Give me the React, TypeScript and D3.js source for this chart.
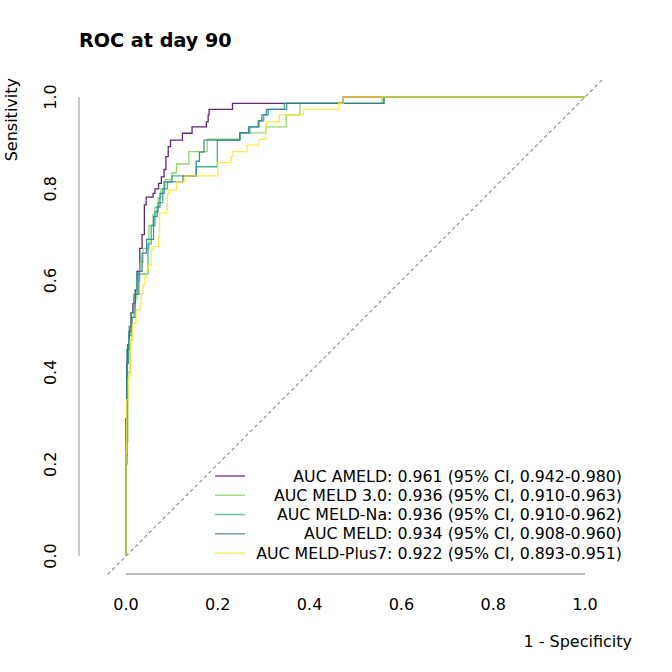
import React from "react";
import * as d3 from "d3";

const models = ["AMELD", "MELD 3.0", "MELD-Na", "MELD", "MELD-Plus7"];
const colors = ["#440154", "#7AD151", "#22A884", "#2A788E", "#FDE725"];
const legendLabels = [
  "AUC AMELD: 0.961 (95% CI, 0.942-0.980)",
  "AUC MELD 3.0: 0.936 (95% CI, 0.910-0.963)",
  "AUC MELD-Na: 0.936 (95% CI, 0.910-0.962)",
  "AUC MELD: 0.934 (95% CI, 0.908-0.960)",
  "AUC MELD-Plus7: 0.922 (95% CI, 0.893-0.951)",
];
const ticks = [0, 0.2, 0.4, 0.6, 0.8, 1.0];

// step vertices: [1-specificity, sensitivity]
const ameld: [number, number][] = [
  [0, 0], [0, 0.3], [0.002, 0.3], [0.002, 0.42], [0.004, 0.42], [0.004, 0.46], [0.007, 0.46], [0.007, 0.49],
  [0.011, 0.49], [0.011, 0.53], [0.015, 0.53], [0.015, 0.55], [0.02, 0.55], [0.02, 0.58], [0.024, 0.58],
  [0.024, 0.62], [0.03, 0.62], [0.03, 0.67], [0.035, 0.67], [0.035, 0.7], [0.04, 0.7], [0.04, 0.765],
  [0.044, 0.765], [0.044, 0.782], [0.059, 0.782], [0.059, 0.79], [0.063, 0.79], [0.063, 0.8], [0.071, 0.8],
  [0.071, 0.812], [0.077, 0.812], [0.077, 0.826], [0.083, 0.826], [0.083, 0.842], [0.087, 0.842],
  [0.087, 0.87], [0.092, 0.87], [0.092, 0.892], [0.097, 0.892], [0.097, 0.906], [0.123, 0.906],
  [0.123, 0.921], [0.144, 0.921], [0.144, 0.935], [0.175, 0.935], [0.175, 0.946], [0.179, 0.946],
  [0.179, 0.961], [0.181, 0.961], [0.181, 0.973], [0.232, 0.973], [0.232, 0.986], [0.473, 0.986],
  [0.473, 1], [1, 1],
];
const meld30: [number, number][] = [
  [0, 0], [0, 0.25], [0.004, 0.25], [0.004, 0.4], [0.009, 0.4], [0.009, 0.47], [0.013, 0.47], [0.013, 0.52],
  [0.017, 0.52], [0.017, 0.56], [0.024, 0.56], [0.024, 0.6], [0.03, 0.6], [0.03, 0.64], [0.037, 0.64],
  [0.037, 0.67], [0.05, 0.67], [0.05, 0.72], [0.059, 0.72], [0.059, 0.745], [0.063, 0.745], [0.063, 0.76],
  [0.07, 0.76], [0.07, 0.78], [0.076, 0.78], [0.076, 0.8], [0.085, 0.8], [0.085, 0.82], [0.1, 0.82],
  [0.1, 0.835], [0.11, 0.835], [0.11, 0.854], [0.137, 0.854], [0.137, 0.881], [0.177, 0.881],
  [0.177, 0.908], [0.248, 0.908], [0.248, 0.922], [0.305, 0.922], [0.305, 0.935], [0.349, 0.935],
  [0.349, 0.961], [0.379, 0.961], [0.379, 0.986], [0.558, 0.986], [0.558, 1], [1, 1],
];
const meldNa: [number, number][] = [
  [0, 0], [0, 0.22], [0.002, 0.22], [0.002, 0.42], [0.006, 0.42], [0.006, 0.48], [0.011, 0.48], [0.011, 0.53],
  [0.017, 0.53], [0.017, 0.57], [0.024, 0.57], [0.024, 0.614], [0.048, 0.614], [0.048, 0.68], [0.055, 0.68],
  [0.055, 0.72], [0.063, 0.72], [0.063, 0.75], [0.07, 0.75], [0.07, 0.77], [0.08, 0.77], [0.08, 0.8],
  [0.09, 0.8], [0.09, 0.815], [0.1, 0.815], [0.1, 0.828], [0.153, 0.828], [0.153, 0.848], [0.199, 0.848],
  [0.199, 0.906], [0.248, 0.906], [0.248, 0.922], [0.27, 0.922], [0.27, 0.935], [0.29, 0.935], [0.29, 0.948],
  [0.3, 0.948], [0.3, 0.961], [0.31, 0.961], [0.31, 0.973], [0.345, 0.973], [0.345, 0.986], [0.562, 0.986],
  [0.562, 1], [1, 1],
];
const meld: [number, number][] = [
  [0, 0], [0, 0.2], [0.002, 0.2], [0.002, 0.45], [0.007, 0.45], [0.007, 0.5], [0.013, 0.5], [0.013, 0.52],
  [0.02, 0.52], [0.02, 0.57], [0.028, 0.57], [0.028, 0.62], [0.035, 0.62], [0.035, 0.66], [0.045, 0.66],
  [0.045, 0.69], [0.06, 0.69], [0.06, 0.74], [0.068, 0.74], [0.068, 0.76], [0.074, 0.76], [0.074, 0.79],
  [0.083, 0.79], [0.083, 0.815], [0.124, 0.815], [0.124, 0.828], [0.153, 0.828], [0.153, 0.86], [0.16, 0.86],
  [0.16, 0.88], [0.17, 0.88], [0.17, 0.906], [0.248, 0.906], [0.248, 0.922], [0.267, 0.922], [0.267, 0.935],
  [0.288, 0.935], [0.288, 0.948], [0.296, 0.948], [0.296, 0.961], [0.306, 0.961], [0.306, 0.973],
  [0.35, 0.973], [0.35, 0.986], [0.562, 0.986], [0.562, 1], [1, 1],
];
const meldPlus7: [number, number][] = [
  [0, 0], [0, 0.224], [0.0015, 0.224], [0.0015, 0.34], [0.005, 0.34], [0.005, 0.387], [0.009, 0.387],
  [0.009, 0.47], [0.014, 0.47], [0.014, 0.507], [0.022, 0.507], [0.022, 0.536], [0.03, 0.536], [0.03, 0.55],
  [0.033, 0.55], [0.033, 0.572], [0.037, 0.572], [0.037, 0.59], [0.041, 0.59], [0.041, 0.608], [0.046, 0.608],
  [0.046, 0.623], [0.049, 0.623], [0.049, 0.634], [0.055, 0.634], [0.055, 0.667], [0.059, 0.667],
  [0.059, 0.674], [0.071, 0.674], [0.071, 0.696], [0.073, 0.696], [0.073, 0.747], [0.088, 0.747],
  [0.088, 0.754], [0.09, 0.754], [0.09, 0.789], [0.093, 0.789], [0.093, 0.797], [0.11, 0.797], [0.11, 0.815],
  [0.128, 0.815], [0.128, 0.828], [0.2, 0.828], [0.2, 0.857], [0.229, 0.857], [0.229, 0.87], [0.233, 0.87],
  [0.233, 0.881], [0.264, 0.881], [0.264, 0.895], [0.29, 0.895], [0.29, 0.908], [0.304, 0.908],
  [0.304, 0.935], [0.306, 0.935], [0.306, 0.946], [0.334, 0.946], [0.334, 0.961], [0.386, 0.961],
  [0.386, 0.973], [0.463, 0.973], [0.463, 0.986], [0.473, 0.986], [0.473, 1], [1, 1],
];
const curves = [ameld, meld30, meldNa, meld, meldPlus7];

const W = 672;
const H = 672;
const font = "DejaVu Sans, sans-serif";

export default function App() {
  const x = d3.scaleLinear().domain([0, 1]).range([126, 585]);
  const y = d3.scaleLinear().domain([0, 1]).range([556, 97]);
  const line = d3
    .line<[number, number]>()
    .x((d) => x(d[0]))
    .y((d) => y(d[1]));
  const fmt = d3.format(".1f");
  const legendY = (i: number) => 476 + i * 19.25;

  return (
    <svg
      width={W}
      height={H}
      style={{ position: "absolute", left: 0, top: 0, background: "#fff" }}
      fontFamily={font}
    >
      <rect width={W} height={H} fill="#fff" />
      <text x={79} y={47} fontSize={19.2} fontWeight="bold" fill="#000">
        ROC at day 90
      </text>
      {/* axes lines */}
      <line x1={79} x2={79} y1={y(0)} y2={y(1)} stroke="#aaa" strokeWidth={1.3} />
      <line x1={x(0)} x2={x(1)} y1={574} y2={574} stroke="#aaa" strokeWidth={1.3} />
      {/* diagonal */}
      <line
        x1={x(-0.04)}
        y1={y(-0.04)}
        x2={x(1.04)}
        y2={y(1.04)}
        stroke="#888"
        strokeWidth={1.1}
        strokeDasharray="3.5,3"
      />
      {/* curves */}
      {curves.map((c, i) => (
        <path
          key={models[i]}
          d={line(c) || ""}
          fill="none"
          stroke={colors[i]}
          strokeWidth={1.3}
          strokeOpacity={0.85}
        />
      ))}
      {/* x ticks */}
      {ticks.map((t) => (
        <text key={"x" + t} x={x(t)} y={610} fontSize={16} textAnchor="middle" fill="#000">
          {fmt(t)}
        </text>
      ))}
      {/* y ticks */}
      {ticks.map((t) => (
        <text
          key={"y" + t}
          transform={`translate(56,${y(t)}) rotate(-90)`}
          fontSize={16}
          textAnchor="middle"
          fill="#000"
        >
          {fmt(t)}
        </text>
      ))}
      <text x={632} y={647} fontSize={16} textAnchor="end" fill="#000">
        1 - Specificity
      </text>
      <text transform="translate(17,78) rotate(-90)" fontSize={16} textAnchor="end" fill="#000">
        Sensitivity
      </text>
      {/* legend */}
      {models.map((m, i) => (
        <g key={"lg" + m}>
          <line
            x1={215}
            x2={245}
            y1={legendY(i)}
            y2={legendY(i)}
            stroke={colors[i]}
            strokeWidth={1.5}
            strokeOpacity={0.7}
          />
          <text x={622} y={legendY(i) + 5.5} fontSize={15.8} textAnchor="end" fill="#000">
            {legendLabels[i]}
          </text>
        </g>
      ))}
    </svg>
  );
}
